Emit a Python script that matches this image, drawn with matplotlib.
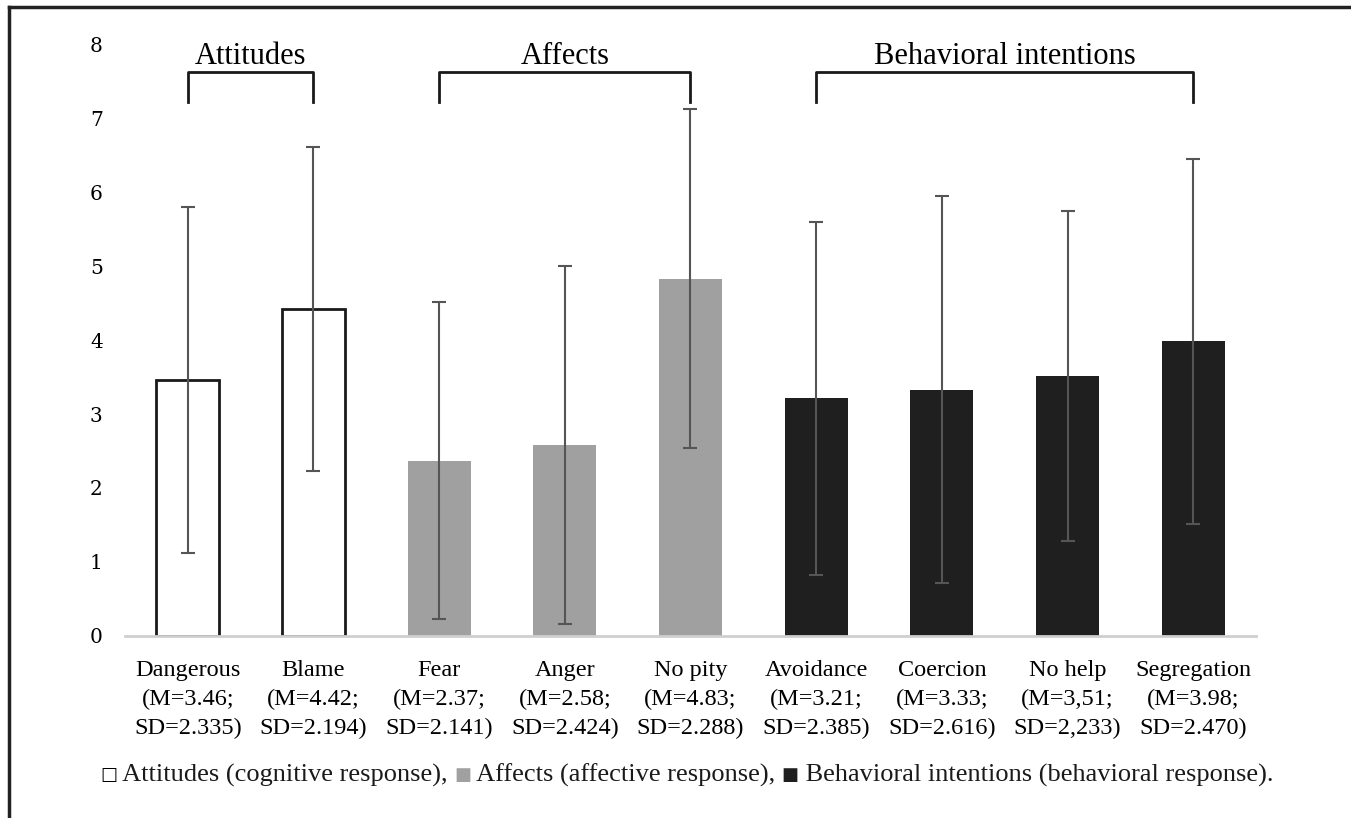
import numpy as np
import matplotlib.pyplot as plt
from matplotlib.lines import Line2D

# data
names = ["Dangerous", "Blame", "Fear", "Anger", "No pity",
         "Avoidance", "Coercion", "No help", "Segregation"]
means = [3.46, 4.42, 2.37, 2.58, 4.83, 3.21, 3.33, 3.51, 3.98]
sds = [2.335, 2.194, 2.141, 2.424, 2.288, 2.385, 2.616, 2.233, 2.470]
mean_txt = ["3.46", "4.42", "2.37", "2.58", "4.83", "3.21", "3.33", "3,51", "3.98"]
sd_txt = ["2.335", "2.194", "2.141", "2.424", "2.288", "2.385", "2.616", "2,233", "2.470"]
group = [0, 0, 1, 1, 1, 2, 2, 2, 2]
group_names = ["Attitudes", "Affects", "Behavioral intentions"]
group_span = [(0, 1), (2, 4), (5, 8)]

face = ["white", "#a0a0a0", "#1f1f1f"]
edge = ["#1a1a1a", "#a0a0a0", "#1f1f1f"]

serif = "Liberation Serif"

fig = plt.figure(figsize=(13.51, 8.18), dpi=100)
ax = fig.add_axes([0.0925, 0.2225, 0.8372, 0.7237])

x = np.arange(len(names))
for i in range(len(names)):
    g = group[i]
    ax.bar(x[i], means[i], width=0.5, color=face[g], edgecolor=edge[g],
           linewidth=2 if g == 0 else 0, zorder=2)
ax.errorbar(x, means, yerr=sds, fmt="none", ecolor="#555555", elinewidth=1.5,
            capsize=5, capthick=1.5, zorder=3)

ax.set_xlim(-0.5, len(names) - 0.5)
ax.set_ylim(0, 8)
ax.set_yticks(range(9))
ax.set_yticklabels([str(v) for v in range(9)], family="DejaVu Serif", fontsize=14.5)
ax.tick_params(axis="y", length=0, pad=16)
ax.tick_params(axis="x", length=0, pad=17)
labels = [f"{n}\n(M={m};\nSD={s})" for n, m, s in zip(names, mean_txt, sd_txt)]
ax.set_xticks(x)
ax.set_xticklabels(labels, family=serif, fontsize=17.5, linespacing=1.5)
for s in ["top", "right", "left"]:
    ax.spines[s].set_visible(False)
ax.spines["bottom"].set_color("#cfcfcf")
ax.spines["bottom"].set_linewidth(2)

# group brackets
for name, (a, b) in zip(group_names, group_span):
    ax.plot([a, a, b, b], [7.22, 7.62, 7.62, 7.22], color="#1a1a1a", lw=2,
            clip_on=False, solid_joinstyle="round")
    ax.text((a + b) / 2, 7.63, name, ha="center", va="bottom", family=serif,
            fontsize=22, clip_on=False)

# legend line at the bottom
fy = 1 - 775 / 818
t = fig.text(0.074, fy, "\u25a1", family="DejaVu Sans", fontsize=13, va="center")
parts = [(" Attitudes (cognitive response), ", None),
         ("\u25a0", "#a0a0a0"),
         (" Affects (affective response), ", None),
         ("\u25a0", "#1f1f1f"),
         (" Behavioral intentions (behavioral response).", None)]
for s, c in parts:
    if c is None:
        t = ax.annotate(s, xy=(1, 0.5), xycoords=t, va="center", ha="left",
                        family=serif, fontsize=19, color="#1a1a1a")
    else:
        t = ax.annotate(s, xy=(1, 0.5), xycoords=t, va="center", ha="left",
                        family="DejaVu Sans", fontsize=13, color=c)

# frame lines on the left and top of the image
fig.add_artist(Line2D([0.0066, 0.0066], [0, 0.991], color="#222222", lw=2.5))
fig.add_artist(Line2D([0.0066, 1], [0.991, 0.991], color="#222222", lw=2.5))

fig.savefig("out.png", dpi=100)
